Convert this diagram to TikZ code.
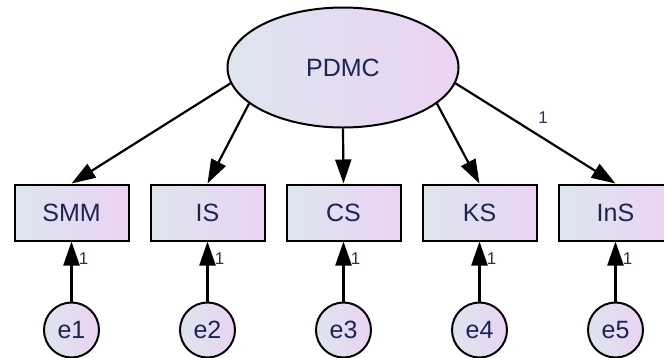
\documentclass[tikz,border=0pt]{standalone}
\usepackage{fontspec}
\setmainfont{Liberation Sans}
\usetikzlibrary{shapes.geometric,arrows.meta}
\definecolor{fillL}{HTML}{DDE5EE}
\definecolor{fillR}{HTML}{EBD3F3}
\definecolor{txt}{HTML}{1C2452}
\definecolor{lbl}{HTML}{2E3050}
\tikzset{
  x=1pt,y=-1pt,
  shadedfill/.style={left color=fillL,right color=fillR,draw=black,line width=2pt,text=txt,font=\fontsize{25}{29}\selectfont,inner sep=0pt},
  latent/.style={shadedfill,ellipse,minimum width=231,minimum height=120},
  obs/.style={shadedfill,rectangle,minimum width=114,minimum height=56},
  err/.style={shadedfill,circle,minimum size=55},
  arr/.style={line width=2.2pt,-{Triangle[length=24pt,width=16pt]}},
  one/.style={text=lbl,font=\fontsize{17}{19}\selectfont,inner sep=0pt}
}
\begin{document}
\begin{tikzpicture}
\useasboundingbox (0,0) rectangle (664,357);
\clip (0,0) rectangle (664,357);
\node[latent] (P) at (343,67.5) {PDMC};
\node[obs] (b1) at (71.5,212.5) {SMM};
\node[obs] (b2) at (207.5,212.5) {IS};
\node[obs] (b3) at (343.5,212.5) {CS};
\node[obs] (b4) at (479.5,212.5) {KS};
\node[obs] (b5) at (615.5,212.5) {InS};
\node[err] (e1) at (71.5,330) {e1};
\node[err] (e2) at (207.5,330) {e2};
\node[err] (e3) at (343.5,330) {e3};
\node[err] (e4) at (479.5,330) {e4};
\node[err] (e5) at (615.5,330) {e5};
\foreach \i/\a in {1/188,2/201,3/270,4/339,5/352}{
  \draw[arr] (P.\a) -- (b\i.north);
  \draw[arr] (e\i) -- (b\i.south);
}
\foreach \i/\x in {1/83.5,2/219.5,3/355.5,4/491.5,5/627.5}{
  \node[one] (l\i) at (\x,259) {1};
}
\node[one] (top1) at (543,118) {1};
\end{tikzpicture}
\end{document}
